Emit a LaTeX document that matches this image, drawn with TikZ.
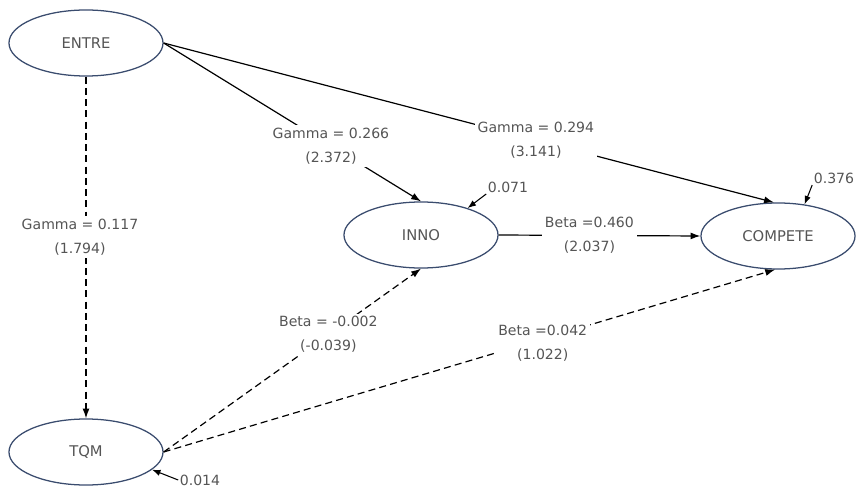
\documentclass[tikz,border=0pt]{standalone}
\usepackage{fontspec}
\setmainfont{DejaVu Sans}
\usepackage{tikz}
\usetikzlibrary{arrows.meta,positioning,shapes.geometric}
\definecolor{semOutline}{RGB}{58,76,110}
\definecolor{semText}{RGB}{85,85,85}
\tikzset{
  semLatent/.style={draw=semOutline, line width=0.9pt, ellipse, minimum width=3.85cm, minimum height=1.65cm, inner sep=0pt, text=semText, font=\fontsize{10.5}{12}\selectfont},
  semPath/.style={-{Latex[length=7pt,width=5pt]}, line width=0.85pt},
  semDashedPath/.style={semPath, dash pattern=on 5pt off 3pt},
  semPathLabel/.style={fill=white, inner sep=2pt, align=center, text=semText, font=\fontsize{10}{17}\selectfont},
  semResidual/.style={inner sep=1pt, text=semText, font=\fontsize{10}{12}\selectfont},
  semResidualArrow/.style={-{Latex[length=6pt,width=4.5pt]}, line width=0.75pt}
}

\begin{document}
\begin{tikzpicture}[x=0.025cm, y=-0.025cm]
      \useasboundingbox (0,0) rectangle (859,491);
      \node[semLatent] (entre) at (86,43) {ENTRE};
      \node[semLatent] (inno) at (421,235) {INNO};
      \node[semLatent] (compete) at (778,236) {COMPETE};
      \node[semLatent] (tqm) at (86,452) {TQM};

      \draw[semDashedPath] (entre.south) -- node[semPathLabel, pos=0.47, xshift=-0.15cm] {Gamma = 0.117\\(1.794)} (tqm.north);
      \draw[semPath] (entre.east) -- node[semPathLabel, pos=0.65] {Gamma = 0.266\\(2.372)} (inno.north);
      \draw[semPath] (entre.east) -- node[semPathLabel, pos=0.61] {Gamma = 0.294\\(3.141)} (compete.97);
      \draw[semPath] (inno.east) -- node[semPathLabel, pos=0.45] {Beta =0.460\\(2.037)} (compete.west);
      \draw[semDashedPath] (tqm.east) -- node[semPathLabel, pos=0.64] {Beta = -0.002\\(-0.039)} (inno.south);
      \draw[semDashedPath] (tqm.east) -- node[semPathLabel, pos=0.62, yshift=-0.1cm] {Beta =0.042\\(1.022)} (compete.-95);

      \node[semResidual] (innoErr) at (508,187) {0.071};
      \node[semResidual] (competeErr) at (834,178) {0.376};
      \node[semResidual] (tqmErr) at (200,480) {0.014};
      \draw[semResidualArrow] (innoErr.south west) -- (inno.30);
      \draw[semResidualArrow] (competeErr.south west) -- (compete.50);
      \draw[semResidualArrow] (tqmErr.west) -- (tqm.-15);
\end{tikzpicture}
\end{document}
